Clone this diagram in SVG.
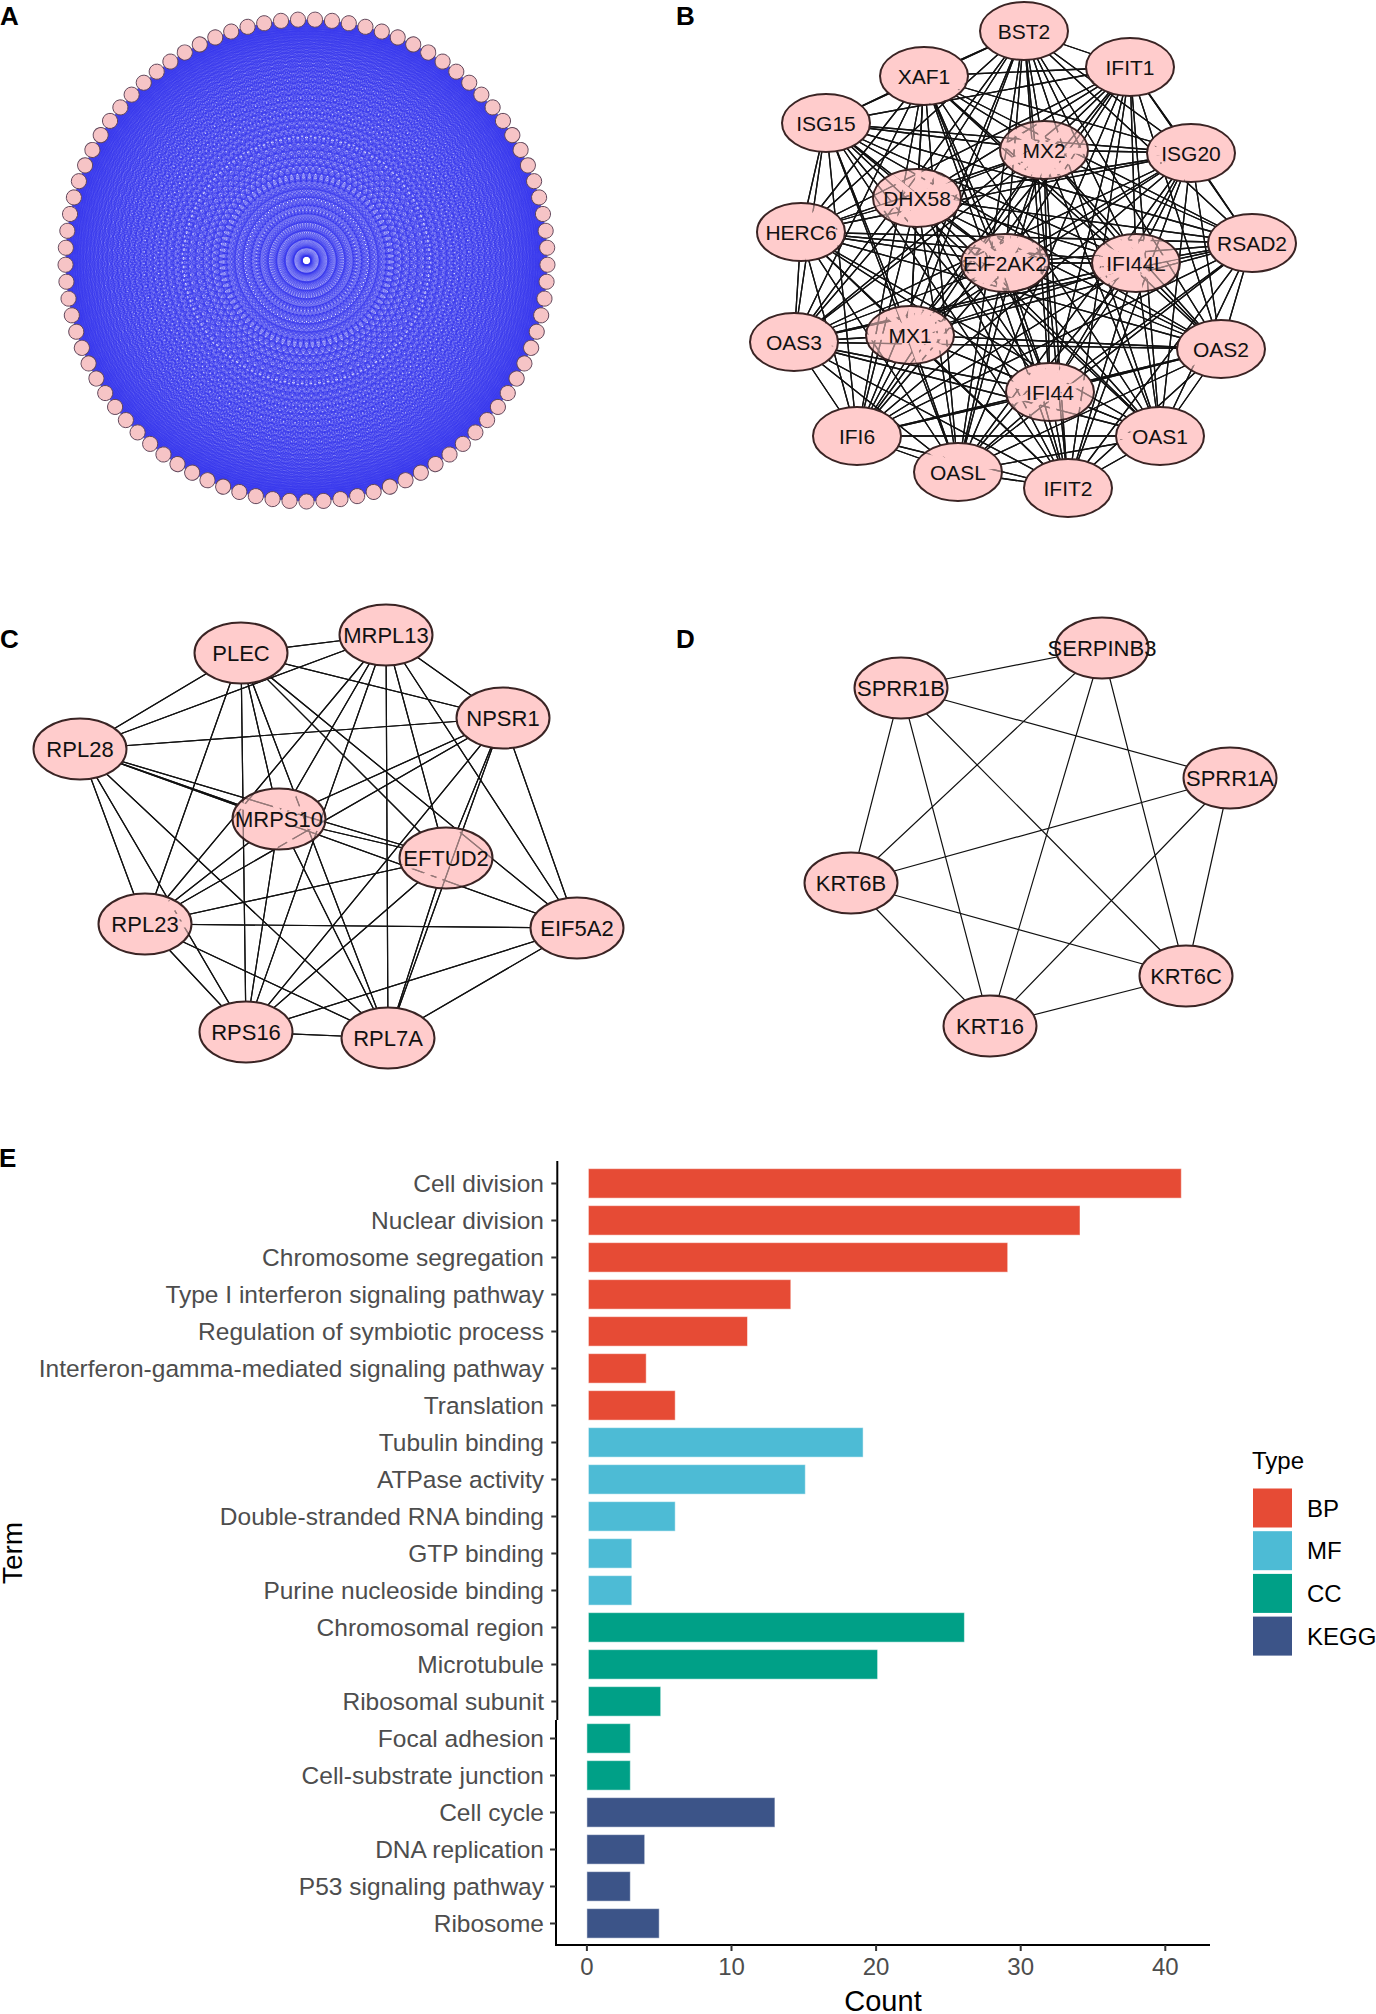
<svg xmlns="http://www.w3.org/2000/svg" xmlns:xlink="http://www.w3.org/1999/xlink" width="1376" height="2014" viewBox="0 0 1376 2014">
<style>
.nd{fill:#ffcccc;stroke:#3a2424;stroke-width:2}
.na{fill:#f6c4c6;stroke:#5e4458;stroke-width:0.9}
.gh{opacity:0.45}
.t{font-family:'Liberation Sans',Arial,Helvetica,sans-serif;fill:#000}
.tb{font-family:'Liberation Sans',Arial,Helvetica,sans-serif;font-size:21px;text-anchor:middle;fill:#111}
.tc{font-family:'Liberation Sans',Arial,Helvetica,sans-serif;font-size:22px;text-anchor:middle;fill:#111}
.pl{font-family:'Liberation Sans',Arial,Helvetica,sans-serif;font-size:26px;font-weight:bold;fill:#000}
.yl{font-family:'Liberation Sans',Arial,Helvetica,sans-serif;font-size:24.5px;text-anchor:end;fill:#4d4d4d}
.xl{font-family:'Liberation Sans',Arial,Helvetica,sans-serif;font-size:24px;text-anchor:middle;fill:#4d4d4d}
.lg{font-family:'Liberation Sans',Arial,Helvetica,sans-serif;font-size:24px;fill:#000}
.bp{fill:#E64B35}.mf{fill:#4DBBD5}.cc{fill:#00A087}.kg{fill:#3C5488}
.bar{stroke:#ffffff;stroke-opacity:0.5;stroke-width:1}
</style>
<defs>
<clipPath id="clipA"><circle cx="0" cy="0" r="241"/></clipPath>
<g id="fanA">
<path d="M-242-240.4H242M-242-238.6H242M-242-235.62H242M-242-231.45H242M-242-226.14H242M-242-219.7H242M-242-212.17H242M-242-203.57H242M-242-193.97H242M-242-183.4H242M-242-171.91H242M-242-159.57H242M-242-146.43H242M-242-132.56H242M-242-118.04H242M-242-102.92H242M-242-87.29H242M-242-71.23H242M-242-54.81H242M-242-38.12H242M-242-21.24H242M-242-4.25H242"/>
<path transform="rotate(2.0225)" d="M-242-240.85H242M-242-239.65H242M-242-237.26H242M-242-233.68H242M-242-228.94H242M-242-223.06H242M-242-216.07H242M-242-208H242M-242-198.9H242M-242-188.8H242M-242-177.76H242M-242-165.84H242M-242-153.09H242M-242-139.58H242M-242-125.38H242M-242-110.55H242M-242-95.17H242M-242-79.31H242M-242-63.06H242M-242-46.5H242M-242-29.7H242M-242-12.75H242"/>
</g>
<circle id="nodeA" cx="0" cy="-241" r="7.6"/>
<rect id="wB" x="680" y="-20" width="720" height="560" fill="#fff"/>
<rect id="wC" x="0" y="580" width="690" height="520" fill="#fff"/>
<clipPath id="cB0"><use href="#eB0"/></clipPath><clipPath id="cB1"><use href="#eB1"/></clipPath><clipPath id="cB2"><use href="#eB2"/></clipPath><clipPath id="cB3"><use href="#eB3"/></clipPath><clipPath id="cB4"><use href="#eB4"/></clipPath><clipPath id="cB5"><use href="#eB5"/></clipPath><clipPath id="cB6"><use href="#eB6"/></clipPath><clipPath id="cB7"><use href="#eB7"/></clipPath><clipPath id="cB8"><use href="#eB8"/></clipPath><clipPath id="cB9"><use href="#eB9"/></clipPath><clipPath id="cB10"><use href="#eB10"/></clipPath><clipPath id="cB11"><use href="#eB11"/></clipPath><clipPath id="cB12"><use href="#eB12"/></clipPath><clipPath id="cB13"><use href="#eB13"/></clipPath><clipPath id="cB14"><use href="#eB14"/></clipPath><clipPath id="cB15"><use href="#eB15"/></clipPath><clipPath id="cB16"><use href="#eB16"/></clipPath><clipPath id="cB17"><use href="#eB17"/></clipPath><clipPath id="cB18"><use href="#eB18"/></clipPath>
<mask id="mB0" maskUnits="userSpaceOnUse" x="680" y="-20" width="720" height="560"><use href="#wB"/><use href="#sB0" fill="none" stroke="#000" stroke-width="6"/></mask>
<mask id="mB1" maskUnits="userSpaceOnUse" x="680" y="-20" width="720" height="560"><use href="#wB"/><use href="#sB1" fill="none" stroke="#000" stroke-width="6"/></mask>
<mask id="mB2" maskUnits="userSpaceOnUse" x="680" y="-20" width="720" height="560"><use href="#wB"/><use href="#sB2" fill="none" stroke="#000" stroke-width="6"/></mask>
<mask id="mB3" maskUnits="userSpaceOnUse" x="680" y="-20" width="720" height="560"><use href="#wB"/><use href="#sB3" fill="none" stroke="#000" stroke-width="6"/></mask>
<mask id="mB4" maskUnits="userSpaceOnUse" x="680" y="-20" width="720" height="560"><use href="#wB"/><use href="#sB4" fill="none" stroke="#000" stroke-width="6"/></mask>
<mask id="mB5" maskUnits="userSpaceOnUse" x="680" y="-20" width="720" height="560"><use href="#wB"/><use href="#sB5" fill="none" stroke="#000" stroke-width="6"/></mask>
<mask id="mB6" maskUnits="userSpaceOnUse" x="680" y="-20" width="720" height="560"><use href="#wB"/><use href="#sB6" fill="none" stroke="#000" stroke-width="6"/></mask>
<mask id="mB7" maskUnits="userSpaceOnUse" x="680" y="-20" width="720" height="560"><use href="#wB"/><use href="#sB7" fill="none" stroke="#000" stroke-width="6"/></mask>
<mask id="mB8" maskUnits="userSpaceOnUse" x="680" y="-20" width="720" height="560"><use href="#wB"/><use href="#sB8" fill="none" stroke="#000" stroke-width="6"/></mask>
<mask id="mB9" maskUnits="userSpaceOnUse" x="680" y="-20" width="720" height="560"><use href="#wB"/><use href="#sB9" fill="none" stroke="#000" stroke-width="6"/></mask>
<mask id="mB10" maskUnits="userSpaceOnUse" x="680" y="-20" width="720" height="560"><use href="#wB"/><use href="#sB10" fill="none" stroke="#000" stroke-width="6"/></mask>
<mask id="mB11" maskUnits="userSpaceOnUse" x="680" y="-20" width="720" height="560"><use href="#wB"/><use href="#sB11" fill="none" stroke="#000" stroke-width="6"/></mask>
<mask id="mB12" maskUnits="userSpaceOnUse" x="680" y="-20" width="720" height="560"><use href="#wB"/><use href="#sB12" fill="none" stroke="#000" stroke-width="6"/></mask>
<mask id="mB13" maskUnits="userSpaceOnUse" x="680" y="-20" width="720" height="560"><use href="#wB"/><use href="#sB13" fill="none" stroke="#000" stroke-width="6"/></mask>
<mask id="mB14" maskUnits="userSpaceOnUse" x="680" y="-20" width="720" height="560"><use href="#wB"/><use href="#sB14" fill="none" stroke="#000" stroke-width="6"/></mask>
<mask id="mB15" maskUnits="userSpaceOnUse" x="680" y="-20" width="720" height="560"><use href="#wB"/><use href="#sB15" fill="none" stroke="#000" stroke-width="6"/></mask>
<mask id="mB16" maskUnits="userSpaceOnUse" x="680" y="-20" width="720" height="560"><use href="#wB"/><use href="#sB16" fill="none" stroke="#000" stroke-width="6"/></mask>
<mask id="mB17" maskUnits="userSpaceOnUse" x="680" y="-20" width="720" height="560"><use href="#wB"/><use href="#sB17" fill="none" stroke="#000" stroke-width="6"/></mask>
<mask id="mB18" maskUnits="userSpaceOnUse" x="680" y="-20" width="720" height="560"><use href="#wB"/><use href="#sB18" fill="none" stroke="#000" stroke-width="6"/></mask>
<clipPath id="cC0"><use href="#eC0"/></clipPath><clipPath id="cC1"><use href="#eC1"/></clipPath><clipPath id="cC2"><use href="#eC2"/></clipPath><clipPath id="cC3"><use href="#eC3"/></clipPath><clipPath id="cC4"><use href="#eC4"/></clipPath><clipPath id="cC5"><use href="#eC5"/></clipPath><clipPath id="cC6"><use href="#eC6"/></clipPath><clipPath id="cC7"><use href="#eC7"/></clipPath><clipPath id="cC8"><use href="#eC8"/></clipPath><clipPath id="cC9"><use href="#eC9"/></clipPath>
<mask id="mC0" maskUnits="userSpaceOnUse" x="0" y="580" width="690" height="520"><use href="#wC"/><use href="#sC0" fill="none" stroke="#000" stroke-width="6"/></mask>
<mask id="mC1" maskUnits="userSpaceOnUse" x="0" y="580" width="690" height="520"><use href="#wC"/><use href="#sC1" fill="none" stroke="#000" stroke-width="6"/></mask>
<mask id="mC2" maskUnits="userSpaceOnUse" x="0" y="580" width="690" height="520"><use href="#wC"/><use href="#sC2" fill="none" stroke="#000" stroke-width="6"/></mask>
<mask id="mC3" maskUnits="userSpaceOnUse" x="0" y="580" width="690" height="520"><use href="#wC"/><use href="#sC3" fill="none" stroke="#000" stroke-width="6"/></mask>
<mask id="mC4" maskUnits="userSpaceOnUse" x="0" y="580" width="690" height="520"><use href="#wC"/><use href="#sC4" fill="none" stroke="#000" stroke-width="6"/></mask>
<mask id="mC5" maskUnits="userSpaceOnUse" x="0" y="580" width="690" height="520"><use href="#wC"/><use href="#sC5" fill="none" stroke="#000" stroke-width="6"/></mask>
<mask id="mC6" maskUnits="userSpaceOnUse" x="0" y="580" width="690" height="520"><use href="#wC"/><use href="#sC6" fill="none" stroke="#000" stroke-width="6"/></mask>
<mask id="mC7" maskUnits="userSpaceOnUse" x="0" y="580" width="690" height="520"><use href="#wC"/><use href="#sC7" fill="none" stroke="#000" stroke-width="6"/></mask>
<mask id="mC8" maskUnits="userSpaceOnUse" x="0" y="580" width="690" height="520"><use href="#wC"/><use href="#sC8" fill="none" stroke="#000" stroke-width="6"/></mask>
<mask id="mC9" maskUnits="userSpaceOnUse" x="0" y="580" width="690" height="520"><use href="#wC"/><use href="#sC9" fill="none" stroke="#000" stroke-width="6"/></mask>
</defs>
<rect x="0" y="0" width="1376" height="2014" fill="#fff"/>

<!-- Panel labels -->
<text class="pl" x="0" y="25">A</text>
<text class="pl" x="676" y="25">B</text>
<text class="pl" x="0" y="648">C</text>
<text class="pl" x="676" y="648">D</text>
<text class="pl" x="-1" y="1167">E</text>

<!-- Panel A -->
<g id="panel-A" transform="translate(306.5 260.5) rotate(180)">
<g id="edges-A" clip-path="url(#clipA)" fill="none" stroke="#3434ee" stroke-width="0.28">
<use href="#fanA"/><use href="#fanA" transform="rotate(4.045)"/><use href="#fanA" transform="rotate(8.09)"/><use href="#fanA" transform="rotate(12.135)"/><use href="#fanA" transform="rotate(16.18)"/><use href="#fanA" transform="rotate(20.225)"/><use href="#fanA" transform="rotate(24.27)"/><use href="#fanA" transform="rotate(28.315)"/><use href="#fanA" transform="rotate(32.36)"/><use href="#fanA" transform="rotate(36.404)"/><use href="#fanA" transform="rotate(40.449)"/><use href="#fanA" transform="rotate(44.494)"/><use href="#fanA" transform="rotate(48.539)"/><use href="#fanA" transform="rotate(52.584)"/><use href="#fanA" transform="rotate(56.629)"/><use href="#fanA" transform="rotate(60.674)"/><use href="#fanA" transform="rotate(64.719)"/><use href="#fanA" transform="rotate(68.764)"/><use href="#fanA" transform="rotate(72.809)"/><use href="#fanA" transform="rotate(76.854)"/><use href="#fanA" transform="rotate(80.899)"/><use href="#fanA" transform="rotate(84.944)"/><use href="#fanA" transform="rotate(88.989)"/><use href="#fanA" transform="rotate(93.034)"/><use href="#fanA" transform="rotate(97.079)"/><use href="#fanA" transform="rotate(101.124)"/><use href="#fanA" transform="rotate(105.169)"/><use href="#fanA" transform="rotate(109.213)"/><use href="#fanA" transform="rotate(113.258)"/><use href="#fanA" transform="rotate(117.303)"/><use href="#fanA" transform="rotate(121.348)"/><use href="#fanA" transform="rotate(125.393)"/><use href="#fanA" transform="rotate(129.438)"/><use href="#fanA" transform="rotate(133.483)"/><use href="#fanA" transform="rotate(137.528)"/><use href="#fanA" transform="rotate(141.573)"/><use href="#fanA" transform="rotate(145.618)"/><use href="#fanA" transform="rotate(149.663)"/><use href="#fanA" transform="rotate(153.708)"/><use href="#fanA" transform="rotate(157.753)"/><use href="#fanA" transform="rotate(161.798)"/><use href="#fanA" transform="rotate(165.843)"/><use href="#fanA" transform="rotate(169.888)"/><use href="#fanA" transform="rotate(173.933)"/><use href="#fanA" transform="rotate(177.978)"/><use href="#fanA" transform="rotate(182.022)"/><use href="#fanA" transform="rotate(186.067)"/><use href="#fanA" transform="rotate(190.112)"/><use href="#fanA" transform="rotate(194.157)"/><use href="#fanA" transform="rotate(198.202)"/><use href="#fanA" transform="rotate(202.247)"/><use href="#fanA" transform="rotate(206.292)"/><use href="#fanA" transform="rotate(210.337)"/><use href="#fanA" transform="rotate(214.382)"/><use href="#fanA" transform="rotate(218.427)"/><use href="#fanA" transform="rotate(222.472)"/><use href="#fanA" transform="rotate(226.517)"/><use href="#fanA" transform="rotate(230.562)"/><use href="#fanA" transform="rotate(234.607)"/><use href="#fanA" transform="rotate(238.652)"/><use href="#fanA" transform="rotate(242.697)"/><use href="#fanA" transform="rotate(246.742)"/><use href="#fanA" transform="rotate(250.787)"/><use href="#fanA" transform="rotate(254.831)"/><use href="#fanA" transform="rotate(258.876)"/><use href="#fanA" transform="rotate(262.921)"/><use href="#fanA" transform="rotate(266.966)"/><use href="#fanA" transform="rotate(271.011)"/><use href="#fanA" transform="rotate(275.056)"/><use href="#fanA" transform="rotate(279.101)"/><use href="#fanA" transform="rotate(283.146)"/><use href="#fanA" transform="rotate(287.191)"/><use href="#fanA" transform="rotate(291.236)"/><use href="#fanA" transform="rotate(295.281)"/><use href="#fanA" transform="rotate(299.326)"/><use href="#fanA" transform="rotate(303.371)"/><use href="#fanA" transform="rotate(307.416)"/><use href="#fanA" transform="rotate(311.461)"/><use href="#fanA" transform="rotate(315.506)"/><use href="#fanA" transform="rotate(319.551)"/><use href="#fanA" transform="rotate(323.596)"/><use href="#fanA" transform="rotate(327.64)"/><use href="#fanA" transform="rotate(331.685)"/><use href="#fanA" transform="rotate(335.73)"/><use href="#fanA" transform="rotate(339.775)"/><use href="#fanA" transform="rotate(343.82)"/><use href="#fanA" transform="rotate(347.865)"/><use href="#fanA" transform="rotate(351.91)"/><use href="#fanA" transform="rotate(355.955)"/>
</g>
<g id="nodes-A" class="na">
<use href="#nodeA"/><use href="#nodeA" transform="rotate(4.045)"/><use href="#nodeA" transform="rotate(8.09)"/><use href="#nodeA" transform="rotate(12.135)"/><use href="#nodeA" transform="rotate(16.18)"/><use href="#nodeA" transform="rotate(20.225)"/><use href="#nodeA" transform="rotate(24.27)"/><use href="#nodeA" transform="rotate(28.315)"/><use href="#nodeA" transform="rotate(32.36)"/><use href="#nodeA" transform="rotate(36.404)"/><use href="#nodeA" transform="rotate(40.449)"/><use href="#nodeA" transform="rotate(44.494)"/><use href="#nodeA" transform="rotate(48.539)"/><use href="#nodeA" transform="rotate(52.584)"/><use href="#nodeA" transform="rotate(56.629)"/><use href="#nodeA" transform="rotate(60.674)"/><use href="#nodeA" transform="rotate(64.719)"/><use href="#nodeA" transform="rotate(68.764)"/><use href="#nodeA" transform="rotate(72.809)"/><use href="#nodeA" transform="rotate(76.854)"/><use href="#nodeA" transform="rotate(80.899)"/><use href="#nodeA" transform="rotate(84.944)"/><use href="#nodeA" transform="rotate(88.989)"/><use href="#nodeA" transform="rotate(93.034)"/><use href="#nodeA" transform="rotate(97.079)"/><use href="#nodeA" transform="rotate(101.124)"/><use href="#nodeA" transform="rotate(105.169)"/><use href="#nodeA" transform="rotate(109.213)"/><use href="#nodeA" transform="rotate(113.258)"/><use href="#nodeA" transform="rotate(117.303)"/><use href="#nodeA" transform="rotate(121.348)"/><use href="#nodeA" transform="rotate(125.393)"/><use href="#nodeA" transform="rotate(129.438)"/><use href="#nodeA" transform="rotate(133.483)"/><use href="#nodeA" transform="rotate(137.528)"/><use href="#nodeA" transform="rotate(141.573)"/><use href="#nodeA" transform="rotate(145.618)"/><use href="#nodeA" transform="rotate(149.663)"/><use href="#nodeA" transform="rotate(153.708)"/><use href="#nodeA" transform="rotate(157.753)"/><use href="#nodeA" transform="rotate(161.798)"/><use href="#nodeA" transform="rotate(165.843)"/><use href="#nodeA" transform="rotate(169.888)"/><use href="#nodeA" transform="rotate(173.933)"/><use href="#nodeA" transform="rotate(177.978)"/><use href="#nodeA" transform="rotate(182.022)"/><use href="#nodeA" transform="rotate(186.067)"/><use href="#nodeA" transform="rotate(190.112)"/><use href="#nodeA" transform="rotate(194.157)"/><use href="#nodeA" transform="rotate(198.202)"/><use href="#nodeA" transform="rotate(202.247)"/><use href="#nodeA" transform="rotate(206.292)"/><use href="#nodeA" transform="rotate(210.337)"/><use href="#nodeA" transform="rotate(214.382)"/><use href="#nodeA" transform="rotate(218.427)"/><use href="#nodeA" transform="rotate(222.472)"/><use href="#nodeA" transform="rotate(226.517)"/><use href="#nodeA" transform="rotate(230.562)"/><use href="#nodeA" transform="rotate(234.607)"/><use href="#nodeA" transform="rotate(238.652)"/><use href="#nodeA" transform="rotate(242.697)"/><use href="#nodeA" transform="rotate(246.742)"/><use href="#nodeA" transform="rotate(250.787)"/><use href="#nodeA" transform="rotate(254.831)"/><use href="#nodeA" transform="rotate(258.876)"/><use href="#nodeA" transform="rotate(262.921)"/><use href="#nodeA" transform="rotate(266.966)"/><use href="#nodeA" transform="rotate(271.011)"/><use href="#nodeA" transform="rotate(275.056)"/><use href="#nodeA" transform="rotate(279.101)"/><use href="#nodeA" transform="rotate(283.146)"/><use href="#nodeA" transform="rotate(287.191)"/><use href="#nodeA" transform="rotate(291.236)"/><use href="#nodeA" transform="rotate(295.281)"/><use href="#nodeA" transform="rotate(299.326)"/><use href="#nodeA" transform="rotate(303.371)"/><use href="#nodeA" transform="rotate(307.416)"/><use href="#nodeA" transform="rotate(311.461)"/><use href="#nodeA" transform="rotate(315.506)"/><use href="#nodeA" transform="rotate(319.551)"/><use href="#nodeA" transform="rotate(323.596)"/><use href="#nodeA" transform="rotate(327.64)"/><use href="#nodeA" transform="rotate(331.685)"/><use href="#nodeA" transform="rotate(335.73)"/><use href="#nodeA" transform="rotate(339.775)"/><use href="#nodeA" transform="rotate(343.82)"/><use href="#nodeA" transform="rotate(347.865)"/><use href="#nodeA" transform="rotate(351.91)"/><use href="#nodeA" transform="rotate(355.955)"/>
</g>
</g>

<!-- Panel B edges -->
<g id="edges-B" fill="none" stroke="#111" stroke-width="1.3" stroke-linejoin="bevel">
<path id="sB0" d="M1130 67L1024 31L924 76M826 123L1024 31L1044 150M1191 153L1024 31L917 198M801 232L1024 31L1252 243M1005 263L1024 31L1136 263M794 342L1024 31L910 335M1221 349L1024 31L1050 392M857 436L1024 31L1160 436M958 472L1024 31L1068 488"/>
<path id="sB1" d="M1024 31L1130 67L924 76M826 123L1130 67L1044 150M1191 153L1130 67L917 198M801 232L1130 67L1252 243M1005 263L1130 67L1136 263M794 342L1130 67L910 335M1221 349L1130 67L1050 392M857 436L1130 67L1160 436M958 472L1130 67L1068 488"/>
<path id="sB2" d="M1024 31L924 76L1130 67M826 123L924 76L1044 150M1191 153L924 76L917 198M801 232L924 76L1252 243M1005 263L924 76L1136 263M794 342L924 76L910 335M1221 349L924 76L1050 392M857 436L924 76L1160 436M958 472L924 76L1068 488"/>
<path id="sB3" d="M1024 31L826 123L1130 67M924 76L826 123L1044 150M1191 153L826 123L917 198M801 232L826 123L1252 243M1005 263L826 123L1136 263M794 342L826 123L910 335M1221 349L826 123L1050 392M857 436L826 123L1160 436M958 472L826 123L1068 488"/>
<path id="sB4" d="M1024 31L1044 150L1130 67M924 76L1044 150L826 123M1191 153L1044 150L917 198M801 232L1044 150L1252 243M1005 263L1044 150L1136 263M794 342L1044 150L910 335M1221 349L1044 150L1050 392M857 436L1044 150L1160 436M958 472L1044 150L1068 488"/>
<path id="sB5" d="M1024 31L1191 153L1130 67M924 76L1191 153L826 123M1044 150L1191 153L917 198M801 232L1191 153L1252 243M1005 263L1191 153L1136 263M794 342L1191 153L910 335M1221 349L1191 153L1050 392M857 436L1191 153L1160 436M958 472L1191 153L1068 488"/>
<path id="sB6" d="M1024 31L917 198L1130 67M924 76L917 198L826 123M1044 150L917 198L1191 153M801 232L917 198L1252 243M1005 263L917 198L1136 263M794 342L917 198L910 335M1221 349L917 198L1050 392M857 436L917 198L1160 436M958 472L917 198L1068 488"/>
<path id="sB7" d="M1024 31L801 232L1130 67M924 76L801 232L826 123M1044 150L801 232L1191 153M917 198L801 232L1252 243M1005 263L801 232L1136 263M794 342L801 232L910 335M1221 349L801 232L1050 392M857 436L801 232L1160 436M958 472L801 232L1068 488"/>
<path id="sB8" d="M1024 31L1252 243L1130 67M924 76L1252 243L826 123M1044 150L1252 243L1191 153M917 198L1252 243L801 232M1005 263L1252 243L1136 263M794 342L1252 243L910 335M1221 349L1252 243L1050 392M857 436L1252 243L1160 436M958 472L1252 243L1068 488"/>
<path id="sB9" d="M1024 31L1005 263L1130 67M924 76L1005 263L826 123M1044 150L1005 263L1191 153M917 198L1005 263L801 232M1252 243L1005 263L1136 263M794 342L1005 263L910 335M1221 349L1005 263L1050 392M857 436L1005 263L1160 436M958 472L1005 263L1068 488"/>
<path id="sB10" d="M1024 31L1136 263L1130 67M924 76L1136 263L826 123M1044 150L1136 263L1191 153M917 198L1136 263L801 232M1252 243L1136 263L1005 263M794 342L1136 263L910 335M1221 349L1136 263L1050 392M857 436L1136 263L1160 436M958 472L1136 263L1068 488"/>
<path id="sB11" d="M1024 31L794 342L1130 67M924 76L794 342L826 123M1044 150L794 342L1191 153M917 198L794 342L801 232M1252 243L794 342L1005 263M1136 263L794 342L910 335M1221 349L794 342L1050 392M857 436L794 342L1160 436M958 472L794 342L1068 488"/>
<path id="sB12" d="M1024 31L910 335L1130 67M924 76L910 335L826 123M1044 150L910 335L1191 153M917 198L910 335L801 232M1252 243L910 335L1005 263M1136 263L910 335L794 342M1221 349L910 335L1050 392M857 436L910 335L1160 436M958 472L910 335L1068 488"/>
<path id="sB13" d="M1024 31L1221 349L1130 67M924 76L1221 349L826 123M1044 150L1221 349L1191 153M917 198L1221 349L801 232M1252 243L1221 349L1005 263M1136 263L1221 349L794 342M910 335L1221 349L1050 392M857 436L1221 349L1160 436M958 472L1221 349L1068 488"/>
<path id="sB14" d="M1024 31L1050 392L1130 67M924 76L1050 392L826 123M1044 150L1050 392L1191 153M917 198L1050 392L801 232M1252 243L1050 392L1005 263M1136 263L1050 392L794 342M910 335L1050 392L1221 349M857 436L1050 392L1160 436M958 472L1050 392L1068 488"/>
<path id="sB15" d="M1024 31L857 436L1130 67M924 76L857 436L826 123M1044 150L857 436L1191 153M917 198L857 436L801 232M1252 243L857 436L1005 263M1136 263L857 436L794 342M910 335L857 436L1221 349M1050 392L857 436L1160 436M958 472L857 436L1068 488"/>
<path id="sB16" d="M1024 31L1160 436L1130 67M924 76L1160 436L826 123M1044 150L1160 436L1191 153M917 198L1160 436L801 232M1252 243L1160 436L1005 263M1136 263L1160 436L794 342M910 335L1160 436L1221 349M1050 392L1160 436L857 436M958 472L1160 436L1068 488"/>
<path id="sB17" d="M1024 31L958 472L1130 67M924 76L958 472L826 123M1044 150L958 472L1191 153M917 198L958 472L801 232M1252 243L958 472L1005 263M1136 263L958 472L794 342M910 335L958 472L1221 349M1050 392L958 472L857 436M1160 436L958 472L1068 488"/>
<path id="sB18" d="M1024 31L1068 488L1130 67M924 76L1068 488L826 123M1044 150L1068 488L1191 153M917 198L1068 488L801 232M1252 243L1068 488L1005 263M1136 263L1068 488L794 342M910 335L1068 488L1221 349M1050 392L1068 488L857 436M1160 436L1068 488L958 472"/>
</g>

<!-- Panel B nodes -->
<g id="node-BST2"><ellipse id="eB0" class="nd" cx="1024" cy="31" rx="44" ry="29"/><g class="gh" clip-path="url(#cB0)" mask="url(#mB0)"><use href="#edges-B"/></g><text class="tb" x="1024" y="38.5">BST2</text></g>
<g id="node-IFIT1"><ellipse id="eB1" class="nd" cx="1130" cy="67" rx="44" ry="29"/><g class="gh" clip-path="url(#cB1)" mask="url(#mB1)"><use href="#edges-B"/></g><text class="tb" x="1130" y="74.5">IFIT1</text></g>
<g id="node-XAF1"><ellipse id="eB2" class="nd" cx="924" cy="76" rx="44" ry="29"/><g class="gh" clip-path="url(#cB2)" mask="url(#mB2)"><use href="#edges-B"/></g><text class="tb" x="924" y="83.5">XAF1</text></g>
<g id="node-ISG15"><ellipse id="eB3" class="nd" cx="826" cy="123" rx="44" ry="29"/><g class="gh" clip-path="url(#cB3)" mask="url(#mB3)"><use href="#edges-B"/></g><text class="tb" x="826" y="130.5">ISG15</text></g>
<g id="node-MX2"><ellipse id="eB4" class="nd" cx="1044" cy="150" rx="44" ry="29"/><g class="gh" clip-path="url(#cB4)" mask="url(#mB4)"><use href="#edges-B"/></g><text class="tb" x="1044" y="157.5">MX2</text></g>
<g id="node-ISG20"><ellipse id="eB5" class="nd" cx="1191" cy="153" rx="44" ry="29"/><g class="gh" clip-path="url(#cB5)" mask="url(#mB5)"><use href="#edges-B"/></g><text class="tb" x="1191" y="160.5">ISG20</text></g>
<g id="node-DHX58"><ellipse id="eB6" class="nd" cx="917" cy="198" rx="44" ry="29"/><g class="gh" clip-path="url(#cB6)" mask="url(#mB6)"><use href="#edges-B"/></g><text class="tb" x="917" y="205.5">DHX58</text></g>
<g id="node-HERC6"><ellipse id="eB7" class="nd" cx="801" cy="232" rx="44" ry="29"/><g class="gh" clip-path="url(#cB7)" mask="url(#mB7)"><use href="#edges-B"/></g><text class="tb" x="801" y="239.5">HERC6</text></g>
<g id="node-RSAD2"><ellipse id="eB8" class="nd" cx="1252" cy="243" rx="44" ry="29"/><g class="gh" clip-path="url(#cB8)" mask="url(#mB8)"><use href="#edges-B"/></g><text class="tb" x="1252" y="250.5">RSAD2</text></g>
<g id="node-EIF2AK2"><ellipse id="eB9" class="nd" cx="1005" cy="263" rx="44" ry="29"/><g class="gh" clip-path="url(#cB9)" mask="url(#mB9)"><use href="#edges-B"/></g><text class="tb" x="1005" y="270.5">EIF2AK2</text></g>
<g id="node-IFI44L"><ellipse id="eB10" class="nd" cx="1136" cy="263" rx="44" ry="29"/><g class="gh" clip-path="url(#cB10)" mask="url(#mB10)"><use href="#edges-B"/></g><text class="tb" x="1136" y="270.5">IFI44L</text></g>
<g id="node-OAS3"><ellipse id="eB11" class="nd" cx="794" cy="342" rx="44" ry="29"/><g class="gh" clip-path="url(#cB11)" mask="url(#mB11)"><use href="#edges-B"/></g><text class="tb" x="794" y="349.5">OAS3</text></g>
<g id="node-MX1"><ellipse id="eB12" class="nd" cx="910" cy="335" rx="44" ry="29"/><g class="gh" clip-path="url(#cB12)" mask="url(#mB12)"><use href="#edges-B"/></g><text class="tb" x="910" y="342.5">MX1</text></g>
<g id="node-OAS2"><ellipse id="eB13" class="nd" cx="1221" cy="349" rx="44" ry="29"/><g class="gh" clip-path="url(#cB13)" mask="url(#mB13)"><use href="#edges-B"/></g><text class="tb" x="1221" y="356.5">OAS2</text></g>
<g id="node-IFI44"><ellipse id="eB14" class="nd" cx="1050" cy="392" rx="44" ry="29"/><g class="gh" clip-path="url(#cB14)" mask="url(#mB14)"><use href="#edges-B"/></g><text class="tb" x="1050" y="399.5">IFI44</text></g>
<g id="node-IFI6"><ellipse id="eB15" class="nd" cx="857" cy="436" rx="44" ry="29"/><g class="gh" clip-path="url(#cB15)" mask="url(#mB15)"><use href="#edges-B"/></g><text class="tb" x="857" y="443.5">IFI6</text></g>
<g id="node-OAS1"><ellipse id="eB16" class="nd" cx="1160" cy="436" rx="44" ry="29"/><g class="gh" clip-path="url(#cB16)" mask="url(#mB16)"><use href="#edges-B"/></g><text class="tb" x="1160" y="443.5">OAS1</text></g>
<g id="node-OASL"><ellipse id="eB17" class="nd" cx="958" cy="472" rx="44" ry="29"/><g class="gh" clip-path="url(#cB17)" mask="url(#mB17)"><use href="#edges-B"/></g><text class="tb" x="958" y="479.5">OASL</text></g>
<g id="node-IFIT2"><ellipse id="eB18" class="nd" cx="1068" cy="488" rx="44" ry="29"/><g class="gh" clip-path="url(#cB18)" mask="url(#mB18)"><use href="#edges-B"/></g><text class="tb" x="1068" y="495.5">IFIT2</text></g>

<!-- Panel C edges -->
<g id="edges-C" fill="none" stroke="#111" stroke-width="1.2" stroke-linejoin="bevel">
<path id="sC0" d="M386 635L241 653L503 718M80 749L241 653L279 819M446 858L241 653L145 924M577 928L241 653L246 1032M241 653L388 1038"/>
<path id="sC1" d="M241 653L386 635L503 718M80 749L386 635L279 819M446 858L386 635L145 924M577 928L386 635L246 1032M386 635L388 1038"/>
<path id="sC2" d="M241 653L503 718L386 635M80 749L503 718L279 819M446 858L503 718L145 924M577 928L503 718L246 1032M503 718L388 1038"/>
<path id="sC3" d="M241 653L80 749L386 635M503 718L80 749L279 819M446 858L80 749L145 924M577 928L80 749L246 1032M80 749L388 1038"/>
<path id="sC4" d="M241 653L279 819L386 635M503 718L279 819L80 749M446 858L279 819L145 924M246 1032L279 819L388 1038"/>
<path id="sC5" d="M241 653L446 858L386 635M503 718L446 858L80 749M279 819L446 858L145 924M246 1032L446 858L388 1038"/>
<path id="sC6" d="M241 653L145 924L386 635M503 718L145 924L80 749M279 819L145 924L446 858M577 928L145 924L246 1032M145 924L388 1038"/>
<path id="sC7" d="M241 653L577 928L386 635M503 718L577 928L80 749M145 924L577 928L246 1032M577 928L388 1038"/>
<path id="sC8" d="M241 653L246 1032L386 635M503 718L246 1032L80 749M279 819L246 1032L446 858M145 924L246 1032L577 928M246 1032L388 1038"/>
<path id="sC9" d="M241 653L388 1038L386 635M503 718L388 1038L80 749M279 819L388 1038L446 858M145 924L388 1038L577 928M388 1038L246 1032"/>
</g>

<!-- Panel C nodes -->
<g id="node-PLEC"><ellipse id="eC0" class="nd" cx="241" cy="653" rx="46.5" ry="30.5"/><g class="gh" clip-path="url(#cC0)" mask="url(#mC0)"><use href="#edges-C"/></g><text class="tc" x="241" y="661">PLEC</text></g>
<g id="node-MRPL13"><ellipse id="eC1" class="nd" cx="386" cy="635" rx="46.5" ry="30.5"/><g class="gh" clip-path="url(#cC1)" mask="url(#mC1)"><use href="#edges-C"/></g><text class="tc" x="386" y="643">MRPL13</text></g>
<g id="node-NPSR1"><ellipse id="eC2" class="nd" cx="503" cy="718" rx="46.5" ry="30.5"/><g class="gh" clip-path="url(#cC2)" mask="url(#mC2)"><use href="#edges-C"/></g><text class="tc" x="503" y="726">NPSR1</text></g>
<g id="node-RPL28"><ellipse id="eC3" class="nd" cx="80" cy="749" rx="46.5" ry="30.5"/><g class="gh" clip-path="url(#cC3)" mask="url(#mC3)"><use href="#edges-C"/></g><text class="tc" x="80" y="757">RPL28</text></g>
<g id="node-MRPS10"><ellipse id="eC4" class="nd" cx="279" cy="819" rx="46.5" ry="30.5"/><g class="gh" clip-path="url(#cC4)" mask="url(#mC4)"><use href="#edges-C"/></g><text class="tc" x="279" y="827">MRPS10</text></g>
<g id="node-EFTUD2"><ellipse id="eC5" class="nd" cx="446" cy="858" rx="46.5" ry="30.5"/><g class="gh" clip-path="url(#cC5)" mask="url(#mC5)"><use href="#edges-C"/></g><text class="tc" x="446" y="866">EFTUD2</text></g>
<g id="node-RPL23"><ellipse id="eC6" class="nd" cx="145" cy="924" rx="46.5" ry="30.5"/><g class="gh" clip-path="url(#cC6)" mask="url(#mC6)"><use href="#edges-C"/></g><text class="tc" x="145" y="932">RPL23</text></g>
<g id="node-EIF5A2"><ellipse id="eC7" class="nd" cx="577" cy="928" rx="46.5" ry="30.5"/><g class="gh" clip-path="url(#cC7)" mask="url(#mC7)"><use href="#edges-C"/></g><text class="tc" x="577" y="936">EIF5A2</text></g>
<g id="node-RPS16"><ellipse id="eC8" class="nd" cx="246" cy="1032" rx="46.5" ry="30.5"/><g class="gh" clip-path="url(#cC8)" mask="url(#mC8)"><use href="#edges-C"/></g><text class="tc" x="246" y="1040">RPS16</text></g>
<g id="node-RPL7A"><ellipse id="eC9" class="nd" cx="388" cy="1038" rx="46.5" ry="30.5"/><g class="gh" clip-path="url(#cC9)" mask="url(#mC9)"><use href="#edges-C"/></g><text class="tc" x="388" y="1046">RPL7A</text></g>

<!-- Panel D -->
<g id="edges-D" fill="none" stroke="#111" stroke-width="1.2">
<path d="M901 688L1102 648M901 688L1230 778M901 688L851 883M901 688L990 1026M901 688L1186 976M1102 648L851 883M1102 648L990 1026M1102 648L1186 976M1230 778L851 883M1230 778L990 1026M1230 778L1186 976M851 883L990 1026M851 883L1186 976M990 1026L1186 976"/>
</g>
<g id="node-SERPINB3"><ellipse class="nd" cx="1102" cy="648" rx="46.5" ry="30.5"/><text class="tc" x="1102" y="656">SERPINB3</text></g>
<g id="node-SPRR1B"><ellipse class="nd" cx="901" cy="688" rx="46.5" ry="30.5"/><text class="tc" x="901" y="696">SPRR1B</text></g>
<g id="node-SPRR1A"><ellipse class="nd" cx="1230" cy="778" rx="46.5" ry="30.5"/><text class="tc" x="1230" y="786">SPRR1A</text></g>
<g id="node-KRT6B"><ellipse class="nd" cx="851" cy="883" rx="46.5" ry="30.5"/><text class="tc" x="851" y="891">KRT6B</text></g>
<g id="node-KRT6C"><ellipse class="nd" cx="1186" cy="976" rx="46.5" ry="30.5"/><text class="tc" x="1186" y="984">KRT6C</text></g>
<g id="node-KRT16"><ellipse class="nd" cx="990" cy="1026" rx="46.5" ry="30.5"/><text class="tc" x="990" y="1034">KRT16</text></g>

<!-- Panel E chart -->
<g id="chart-E">
<g id="bars" class="bar">
<rect class="bp" x="588.4" y="1168.65" width="592.9" height="29.5"/>
<rect class="bp" x="588.4" y="1205.65" width="491.6" height="29.5"/>
<rect class="bp" x="588.4" y="1242.65" width="419.3" height="29.5"/>
<rect class="bp" x="588.4" y="1279.65" width="202.4" height="29.5"/>
<rect class="bp" x="588.4" y="1316.65" width="159.1" height="29.5"/>
<rect class="bp" x="588.4" y="1353.65" width="57.8" height="29.5"/>
<rect class="bp" x="588.4" y="1390.65" width="86.8" height="29.5"/>
<rect class="mf" x="588.4" y="1427.65" width="274.7" height="29.5"/>
<rect class="mf" x="588.4" y="1464.65" width="216.9" height="29.5"/>
<rect class="mf" x="588.4" y="1501.65" width="86.8" height="29.5"/>
<rect class="mf" x="588.4" y="1538.65" width="43.4" height="29.5"/>
<rect class="mf" x="588.4" y="1575.65" width="43.4" height="29.5"/>
<rect class="cc" x="588.4" y="1612.65" width="376" height="29.5"/>
<rect class="cc" x="588.4" y="1649.65" width="289.2" height="29.5"/>
<rect class="cc" x="588.4" y="1686.65" width="72.3" height="29.5"/>
<rect class="cc" x="586.9" y="1723.65" width="43.4" height="29.5"/>
<rect class="cc" x="586.9" y="1760.65" width="43.4" height="29.5"/>
<rect class="kg" x="586.9" y="1797.65" width="188" height="29.5"/>
<rect class="kg" x="586.9" y="1834.65" width="57.8" height="29.5"/>
<rect class="kg" x="586.9" y="1871.65" width="43.4" height="29.5"/>
<rect class="kg" x="586.9" y="1908.65" width="72.3" height="29.5"/>
</g>
<g id="axes" fill="none">
<path d="M557.3 1161V1720" stroke="#000" stroke-width="2"/>
<path d="M556 1720V1946M555 1945H1210" stroke="#000" stroke-width="2"/>
<path stroke="#333" stroke-width="2" d="M551.3 1183.4H557.3M551.3 1220.4H557.3M551.3 1257.4H557.3M551.3 1294.4H557.3M551.3 1331.4H557.3M551.3 1368.4H557.3M551.3 1405.4H557.3M551.3 1442.4H557.3M551.3 1479.4H557.3M551.3 1516.4H557.3M551.3 1553.4H557.3M551.3 1590.4H557.3M551.3 1627.4H557.3M551.3 1664.4H557.3M551.3 1701.4H557.3M550 1738.4H556M550 1775.4H556M550 1812.4H556M550 1849.4H556M550 1886.4H556M550 1923.4H556M586.9 1945V1951M731.5 1945V1951M876.1 1945V1951M1020.7 1945V1951M1165.3 1945V1951"/>
</g>
<g id="ylabels">
<text class="yl" x="544" y="1192.1">Cell division</text>
<text class="yl" x="544" y="1229.1">Nuclear division</text>
<text class="yl" x="544" y="1266.1">Chromosome segregation</text>
<text class="yl" x="544" y="1303.1">Type I interferon signaling pathway</text>
<text class="yl" x="544" y="1340.1">Regulation of symbiotic process</text>
<text class="yl" x="544" y="1377.1">Interferon-gamma-mediated signaling pathway</text>
<text class="yl" x="544" y="1414.1">Translation</text>
<text class="yl" x="544" y="1451.1">Tubulin binding</text>
<text class="yl" x="544" y="1488.1">ATPase activity</text>
<text class="yl" x="544" y="1525.1">Double-stranded RNA binding</text>
<text class="yl" x="544" y="1562.1">GTP binding</text>
<text class="yl" x="544" y="1599.1">Purine nucleoside binding</text>
<text class="yl" x="544" y="1636.1">Chromosomal region</text>
<text class="yl" x="544" y="1673.1">Microtubule</text>
<text class="yl" x="544" y="1710.1">Ribosomal subunit</text>
<text class="yl" x="544" y="1747.1">Focal adhesion</text>
<text class="yl" x="544" y="1784.1">Cell-substrate junction</text>
<text class="yl" x="544" y="1821.1">Cell cycle</text>
<text class="yl" x="544" y="1858.1">DNA replication</text>
<text class="yl" x="544" y="1895.1">P53 signaling pathway</text>
<text class="yl" x="544" y="1932.1">Ribosome</text>
</g>
<g id="xlabels">
<text class="xl" x="586.9" y="1975">0</text>
<text class="xl" x="731.5" y="1975">10</text>
<text class="xl" x="876.1" y="1975">20</text>
<text class="xl" x="1020.7" y="1975">30</text>
<text class="xl" x="1165.3" y="1975">40</text>
</g>
<text class="t" x="883" y="2011" font-size="29" text-anchor="middle">Count</text>
<text class="t" transform="translate(22 1553) rotate(-90)" font-size="28" text-anchor="middle">Term</text>
<g id="legend">
<text class="lg" x="1252" y="1469">Type</text>
<rect class="bp" x="1253" y="1488.5" width="39" height="39"/>
<rect class="mf" x="1253" y="1531.2" width="39" height="39"/>
<rect class="cc" x="1253" y="1573.9" width="39" height="39"/>
<rect class="kg" x="1253" y="1616.6" width="39" height="39"/>
<text class="lg" x="1307" y="1516.6">BP</text>
<text class="lg" x="1307" y="1559.3">MF</text>
<text class="lg" x="1307" y="1602">CC</text>
<text class="lg" x="1307" y="1644.7">KEGG</text>
</g>
</g>
</svg>
